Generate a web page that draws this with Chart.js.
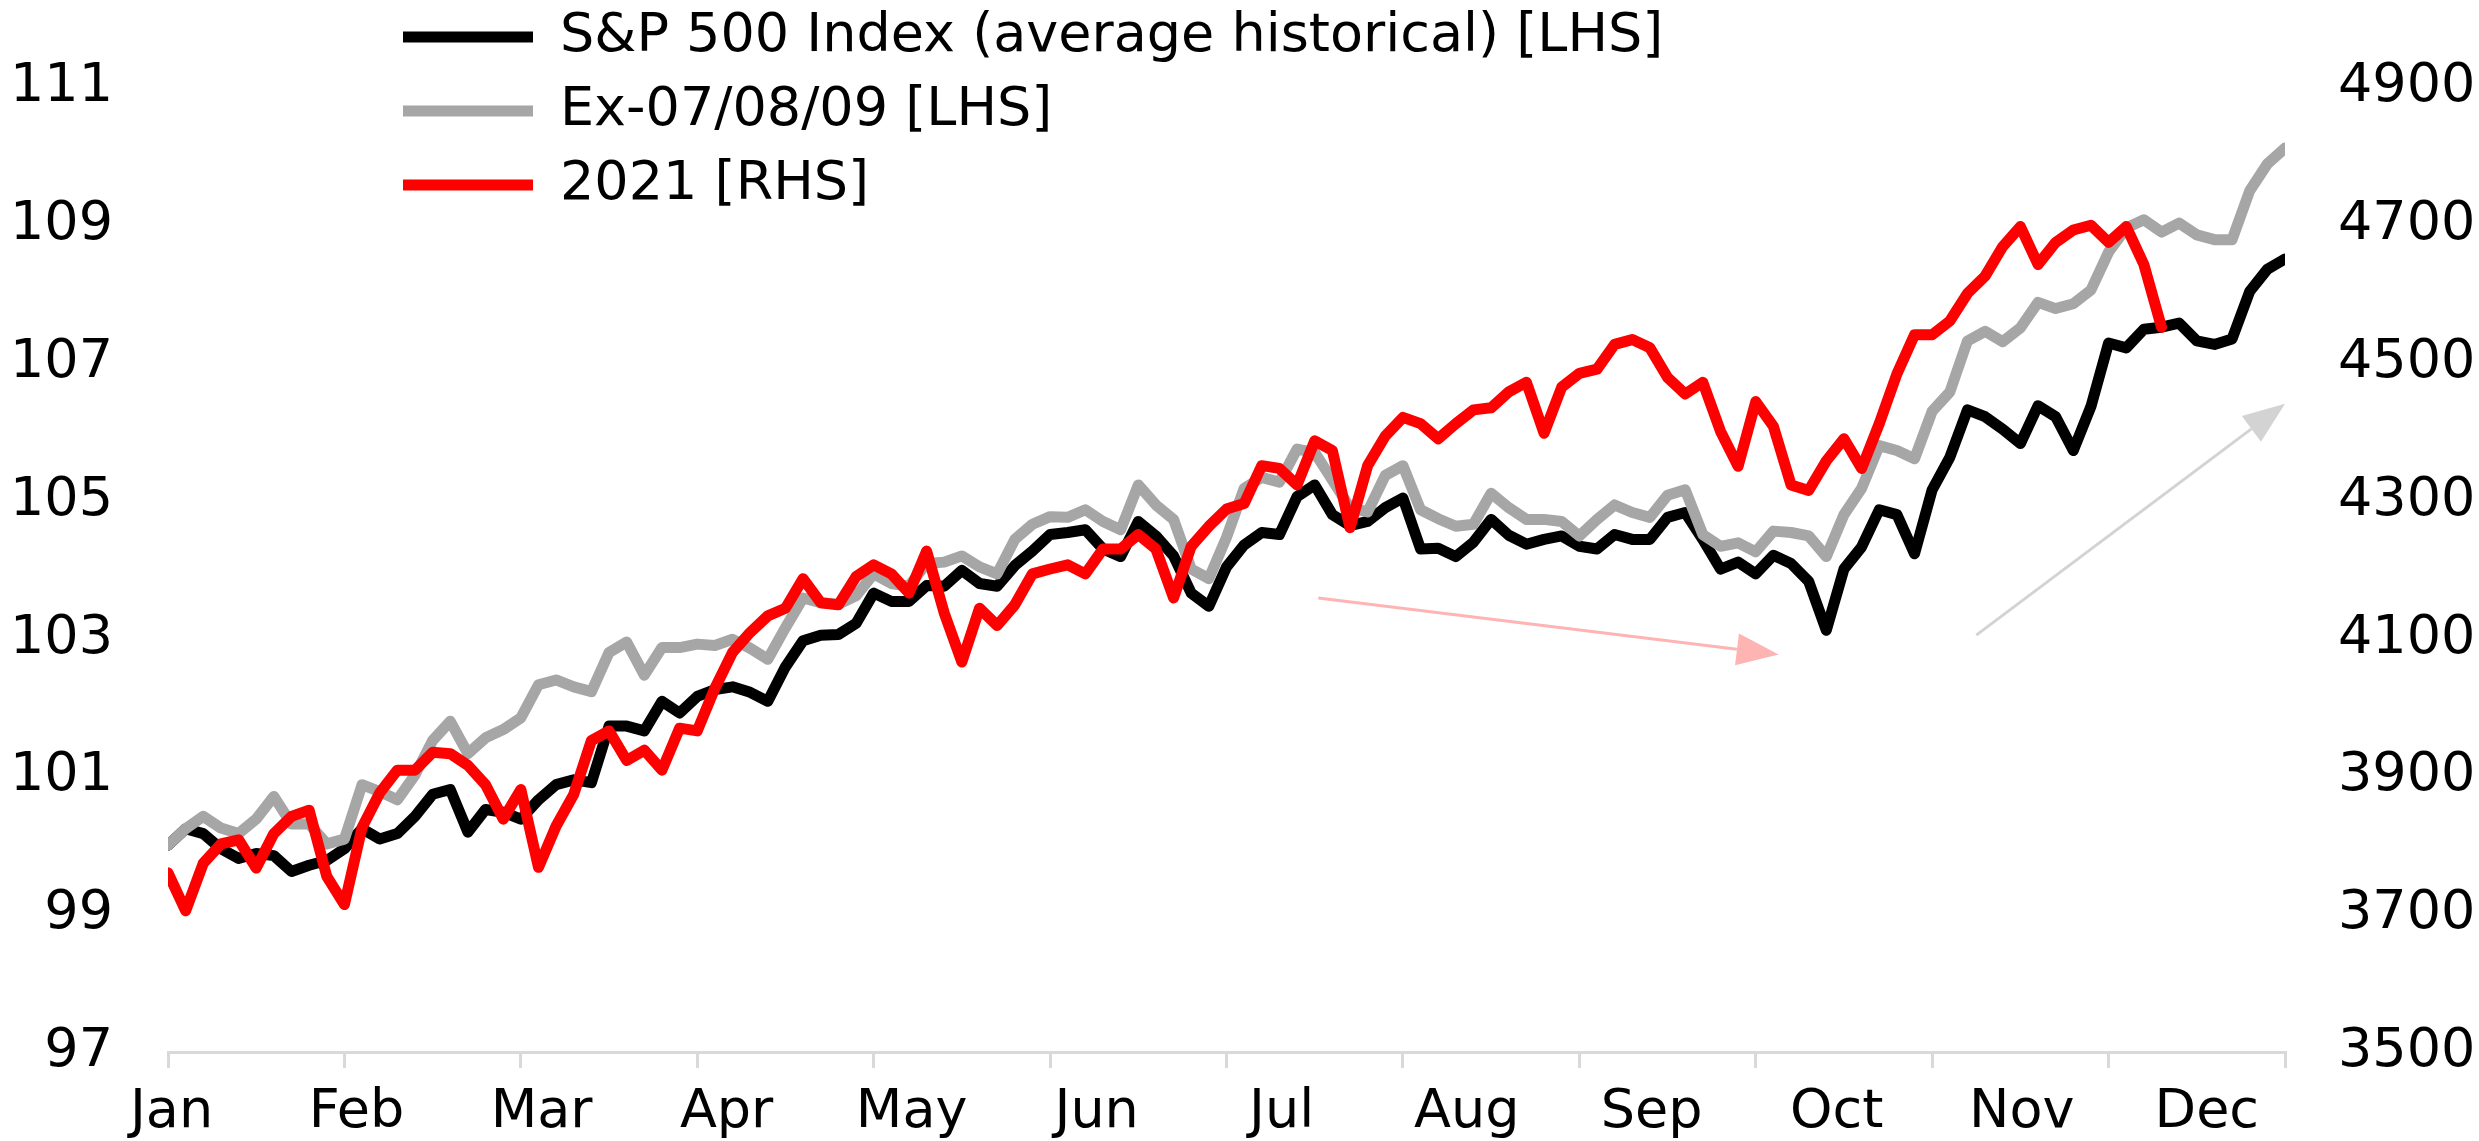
<!DOCTYPE html>
<html>
<head>
<meta charset="utf-8">
<script src="https://cdn.jsdelivr.net/npm/chart.js@4"></script>
<style>
  html, body { margin: 0; padding: 0; background: #fff; }
  #wrap { width: 2479px; height: 1141px; position: relative; }
</style>
</head>
<body>
<div id="wrap"><canvas id="chart"></canvas></div>
<script>
// x axis month names
const months = ['Jan', 'Feb', 'Mar', 'Apr', 'May', 'Jun', 'Jul', 'Aug', 'Sep', 'Oct', 'Nov', 'Dec'];

// axis tick labels
const lhsTicks = [97, 99, 101, 103, 105, 107, 109, 111];
const rhsTicks = [3500, 3700, 3900, 4100, 4300, 4500, 4700, 4900];

// one value every 0.1 month
const spxAvg = [
  100.0, 100.24, 100.17, 99.95, 99.81, 99.88, 99.85, 99.62, 99.71, 99.78,
  99.95, 100.24, 100.09, 100.17, 100.42, 100.74, 100.81, 100.19, 100.52, 100.48,
  100.38, 100.66, 100.88, 100.95, 100.91, 101.73, 101.73, 101.66, 102.09, 101.92,
  102.16, 102.26, 102.30, 102.22, 102.09, 102.59, 102.97, 103.05, 103.06, 103.22,
  103.66, 103.54, 103.54, 103.77, 103.76, 103.99, 103.80, 103.76, 104.06, 104.27,
  104.51, 104.54, 104.58, 104.30, 104.19, 104.70, 104.49, 104.20, 103.66, 103.47,
  104.04, 104.36, 104.54, 104.51, 105.06, 105.23, 104.80, 104.64, 104.70, 104.90,
  105.04, 104.30, 104.31, 104.19, 104.40, 104.73, 104.50, 104.37, 104.44, 104.49,
  104.34, 104.30, 104.51, 104.44, 104.44, 104.76, 104.83, 104.44, 104.01, 104.11,
  103.94, 104.21, 104.09, 103.83, 103.12, 104.01, 104.33, 104.87, 104.80, 104.23,
  105.16, 105.63, 106.32, 106.22, 106.04, 105.83, 106.38, 106.22, 105.73, 106.37,
  107.29, 107.22, 107.49, 107.52, 107.58, 107.32, 107.27, 107.35, 108.04, 108.36,
  108.51
];

const exCrisis = [
  100.0, 100.24, 100.42, 100.25, 100.17, 100.38, 100.71, 100.31, 100.31, 100.02,
  100.09, 100.88, 100.78, 100.66, 101.02, 101.52, 101.80, 101.33, 101.56, 101.68,
  101.85, 102.33, 102.40, 102.30, 102.23, 102.80, 102.95, 102.47, 102.87, 102.87,
  102.92, 102.90, 102.99, 102.86, 102.70, 103.16, 103.59, 103.52, 103.50, 103.62,
  103.94, 103.80, 103.76, 104.09, 104.11, 104.20, 104.04, 103.94, 104.44, 104.66,
  104.77, 104.76, 104.87, 104.70, 104.58, 105.23, 104.94, 104.73, 104.01, 103.87,
  104.47, 105.18, 105.34, 105.27, 105.75, 105.70, 105.30, 104.90, 104.84, 105.37,
  105.51, 104.87, 104.74, 104.63, 104.66, 105.11, 104.90, 104.73, 104.73, 104.70,
  104.49, 104.73, 104.94, 104.83, 104.76, 105.08, 105.16, 104.51, 104.34, 104.39,
  104.26, 104.56, 104.54, 104.49, 104.19, 104.80, 105.18, 105.80, 105.73, 105.61,
  106.30, 106.58, 107.32, 107.46, 107.31, 107.51, 107.88, 107.79, 107.86, 108.06,
  108.61, 108.96, 109.08, 108.90, 109.03, 108.86, 108.79, 108.79, 109.50, 109.89,
  110.12
];

const spx2021 = [
  3760, 3705, 3774, 3802, 3808, 3767, 3817, 3842, 3851, 3755,
  3714, 3826, 3876, 3909, 3909, 3935, 3933, 3916, 3888, 3838,
  3881, 3768, 3828, 3874, 3952, 3966, 3923, 3938, 3909, 3970,
  3966, 4028, 4080, 4109, 4133, 4144, 4187, 4152, 4149, 4190,
  4207, 4194, 4166, 4227, 4137, 4066, 4144, 4119, 4149, 4194,
  4201, 4207, 4194, 4230, 4230, 4251, 4230, 4159, 4234, 4263,
  4288, 4296, 4351, 4347, 4323, 4387, 4373, 4261, 4351, 4394,
  4421, 4412, 4390, 4412, 4432, 4435, 4458, 4472, 4398, 4465,
  4485, 4491, 4527, 4534, 4522, 4479, 4455, 4472, 4401, 4350,
  4444, 4408, 4323, 4315, 4358, 4390, 4347, 4412, 4484, 4541,
  4541, 4561, 4601, 4626, 4669, 4698, 4643, 4675, 4693, 4700,
  4675, 4698, 4643, 4552
];

// trend arrows drawn on top, ends given as [month, LHS level]
const arrows = [
  { from: [6.52, 103.59], to: [9.13, 102.77], color: '#ffb4b4' },
  { from: [10.25, 103.05], to: [12.0, 106.41], color: '#d3d3d3' }
];

const STEP = 0.1;
const toXY = arr => arr.map((v, i) => ({ x: +(i * STEP).toFixed(2), y: v }));
const font = { family: 'DejaVu Sans', size: 54 };

// put the legend column at the top left, over the plot
const legendSpot = {
  id: 'legendSpot',
  afterLayout(chart) {
    const lg = chart.legend;
    lg.left = 383;
    lg.top = -10;
    lg.right = chart.width;
    lg.bottom = 400;
  }
};

const trendArrows = {
  id: 'trendArrows',
  afterDatasetsDraw(chart) {
    const { ctx, scales: { x, y } } = chart;
    arrows.forEach(a => {
      const x0 = x.getPixelForValue(a.from[0]), y0 = y.getPixelForValue(a.from[1]);
      const x1 = x.getPixelForValue(a.to[0]), y1 = y.getPixelForValue(a.to[1]);
      const ang = Math.atan2(y1 - y0, x1 - x0);
      const head = 42, half = 16;
      const bx = x1 - head * Math.cos(ang), by = y1 - head * Math.sin(ang);
      ctx.save();
      ctx.strokeStyle = a.color;
      ctx.fillStyle = a.color;
      ctx.lineWidth = 3;
      ctx.beginPath();
      ctx.moveTo(x0, y0);
      ctx.lineTo(bx, by);
      ctx.stroke();
      ctx.beginPath();
      ctx.moveTo(x1, y1);
      ctx.lineTo(bx + half * Math.sin(ang), by - half * Math.cos(ang));
      ctx.lineTo(bx - half * Math.sin(ang), by + half * Math.cos(ang));
      ctx.closePath();
      ctx.fill();
      ctx.restore();
    });
  }
};

const lineStyle = {
  borderWidth: 11,
  borderCapStyle: 'round',
  borderJoinStyle: 'round',
  pointRadius: 0,
  tension: 0,
  fill: false
};

new Chart(document.getElementById('chart'), {
  type: 'line',
  data: {
    datasets: [
      { ...lineStyle, label: 'S&P 500 Index (average historical) [LHS]', data: toXY(spxAvg),
        borderColor: '#000000', backgroundColor: '#000000', yAxisID: 'y', order: 3 },
      { ...lineStyle, label: 'Ex-07/08/09 [LHS]', data: toXY(exCrisis),
        borderColor: '#a6a6a6', backgroundColor: '#a6a6a6', yAxisID: 'y', order: 2 },
      { ...lineStyle, label: '2021 [RHS]', data: toXY(spx2021),
        borderColor: '#ff0000', backgroundColor: '#ff0000', yAxisID: 'y2', order: 1 }
    ]
  },
  options: {
    responsive: true,
    maintainAspectRatio: false,
    devicePixelRatio: 1,
    animation: false,
    events: [],
    layout: { padding: { top: 71, left: 0, right: 0, bottom: 0 } },
    plugins: {
      tooltip: { enabled: false },
      legend: {
        position: 'chartArea',
        align: 'start',
        labels: {
          usePointStyle: true,
          pointStyle: 'line',
          pointStyleWidth: 130,
          padding: 20,
          color: '#000',
          font,
          sort: (a, b) => a.datasetIndex - b.datasetIndex
        }
      }
    },
    scales: {
      x: {
        type: 'linear', position: 'bottom', min: 0, max: 12, weight: 0,
        afterBuildTicks: s => { s.ticks = months.map((m, i) => ({ value: i })).concat([{ value: 12 }]); },
        ticks: { display: false },
        grid: { display: true, drawOnChartArea: false, drawTicks: true, tickLength: 16, color: '#d9d9d9', lineWidth: 3 },
        border: { display: true, color: '#d9d9d9', width: 3 },
        afterFit: s => { s.height = 16; }
      },
      xl: {
        type: 'linear', position: 'bottom', min: 0, max: 12, weight: 1,
        afterBuildTicks: s => { s.ticks = months.map((m, i) => ({ value: 0.02 + 1.0488 * i })); },
        ticks: { callback: (v, i) => months[i], color: '#000', font, padding: 13, maxRotation: 0, autoSkip: false },
        grid: { display: false, drawTicks: false },
        border: { display: false },
        afterFit: s => { s.height = 73; }
      },
      y: {
        position: 'left', min: 97, max: 111,
        afterBuildTicks: s => { s.ticks = lhsTicks.map(v => ({ value: v })); },
        ticks: { color: '#000', font, padding: 55, callback: v => String(v) },
        grid: { display: false, drawTicks: false },
        border: { display: false },
        afterFit: s => { s.width = 168; }
      },
      y2: {
        position: 'right', min: 3500, max: 4900,
        afterBuildTicks: s => { s.ticks = rhsTicks.map(v => ({ value: v })); },
        ticks: { color: '#000', font, padding: 53, callback: v => String(v) },
        grid: { display: false, drawTicks: false },
        border: { display: false },
        afterFit: s => { s.width = 194; }
      }
    }
  },
  plugins: [legendSpot, trendArrows]
});
</script>
</body>
</html>
